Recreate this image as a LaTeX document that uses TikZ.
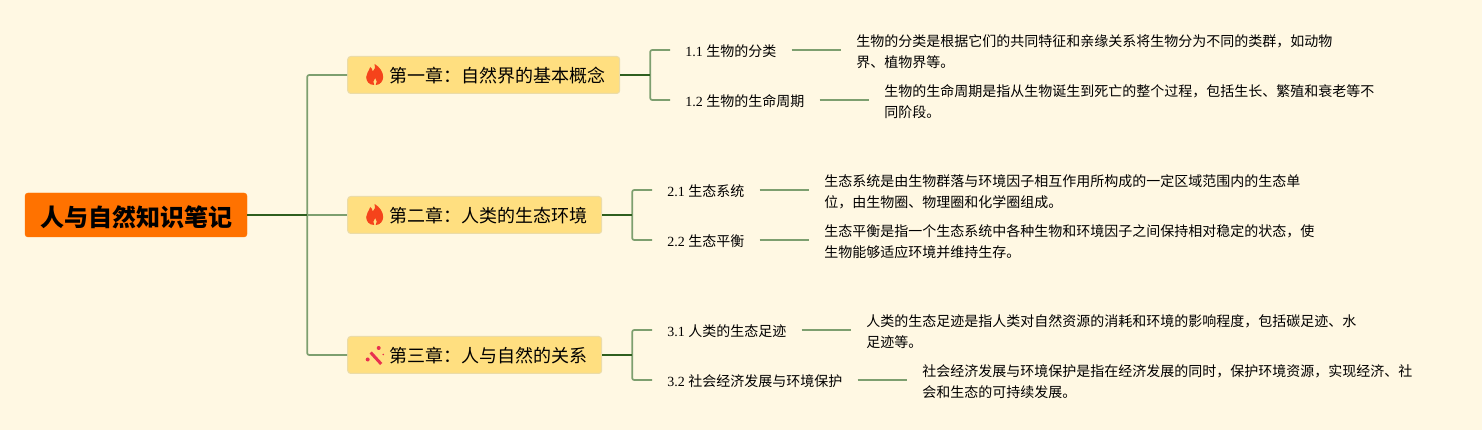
\documentclass[tikz,border=0pt]{standalone}
\usepackage{fontspec}
\setmainfont{Liberation Serif}
\newfontfamily\cjk{Noto Sans CJK SC}
\usepackage{tikz}
\usetikzlibrary{positioning,calc}
\definecolor{MapCream}{HTML}{FFF8E3}
\definecolor{MapOrange}{HTML}{FF7200}
\definecolor{MapGold}{HTML}{FFDF80}
\definecolor{MapEdge}{HTML}{EBDCA8}
\definecolor{MapDark}{HTML}{2F5F1F}
\definecolor{MapGreen}{HTML}{7D9F6F}
\definecolor{MapFlame}{HTML}{F5431B}
\definecolor{MapWand}{HTML}{E8304F}
\tikzset{
  rootbox/.style={rectangle,rounded corners=3pt,fill=MapOrange,draw=MapOrange,minimum width=222pt,minimum height=44pt,inner sep=0pt,text height=24pt,text depth=1.76pt,font=\fontsize{24}{28}\selectfont\cjk\bfseries},
  chapter/.style={rectangle,rounded corners=3pt,fill=MapGold,draw=MapEdge,line width=1pt,minimum height=37pt,inner xsep=14pt,inner ysep=0pt,text height=18pt,text depth=2.32pt,font=\fontsize{18}{22}\selectfont\cjk,execute at begin node=\hspace*{28pt}},
  topic/.style={inner xsep=15pt,inner ysep=0pt,minimum height=21pt,text height=14pt,text depth=1.36pt,font=\fontsize{14}{21}\selectfont},
  detail/.style={inner xsep=15pt,inner ysep=0pt,align=left,font=\fontsize{14}{21}\selectfont\cjk},
  trunk/.style={line width=1.7pt,color=MapGreen,rounded corners=2pt},
  stem/.style={line width=1.7pt,color=MapDark},
  flame/.pic={
    \fill[MapFlame] (-0.5,-10) .. controls (-6,-10) and (-8.5,-6) .. (-8.5,-2) .. controls (-8.5,2) and (-6,3) .. (-4.5,8) .. controls (-3,7) and (-2,5.5) .. (-2,3.5) .. controls (0,5) and (1,8) .. (0,11) .. controls (5,8) and (8.5,3) .. (8.5,-2) .. controls (8.5,-6) and (5.5,-10) .. (1,-10) .. controls (2.5,-8) and (2.5,-5) .. (0.5,-3) .. controls (-1.5,-5) and (-2,-8) .. (-0.5,-10) -- cycle;
  },
  wand/.pic={
    \draw[MapWand,line width=3pt] (-3.5,2.5) -- (7,-9);
    \fill[MapWand] (4.5,7) circle (2pt);
    \fill[MapWand] (-6.5,-4.5) circle (2pt);
    \fill[MapWand] (9,0.5) circle (0.9pt);
  },
}

\begin{document}
\begin{tikzpicture}[x=1pt,y=1pt,node distance=0pt]
  \useasboundingbox[fill=MapCream] (0,0) rectangle (1482,430);

  % Root
  \node[rootbox] (root) at (136,215) {人与自然知识笔记};

  % Chapters
  \node[chapter, right=100pt of root, yshift=140pt] (ch1) {第一章：自然界的基本概念};
  \node[chapter, right=100pt of root, yshift=0pt] (ch2) {第二章：人类的生态环境};
  \node[chapter, right=100pt of root, yshift=-140pt] (ch3) {第三章：人与自然的关系};
  \pic at ($(ch1.west)+(27.5,0)$) {flame};
  \pic at ($(ch2.west)+(27.5,0)$) {flame};
  \pic at ($(ch3.west)+(27,0)$) {wand};

  % Junctions
  \coordinate[right=60pt of root] (hub);
  \coordinate[right=30pt of ch1] (fork1);
  \coordinate[right=30pt of ch2] (fork2);
  \coordinate[right=30pt of ch3] (fork3);

  % Sections of chapter 1
  \node[topic, right=50pt of ch1, yshift=25pt] (s11) {1.1 {\cjk 生物的分类}};
  \node[topic, right=50pt of ch1, yshift=-25pt] (s12) {1.2 {\cjk 生物的生命周期}};
  \node[detail, right=49.5pt of s11, yshift=-2pt] (d11) {生物的分类是根据它们的共同特征和亲缘关系将生物分为不同的类群，如动物\\界、植物界等。};
  \node[detail, right=49.5pt of s12, yshift=-2pt] (d12) {生物的生命周期是指从生物诞生到死亡的整个过程，包括生长、繁殖和衰老等不\\同阶段。};

  % Sections of chapter 2
  \node[topic, right=50pt of ch2, yshift=25pt] (s21) {2.1 {\cjk 生态系统}};
  \node[topic, right=50pt of ch2, yshift=-25pt] (s22) {2.2 {\cjk 生态平衡}};
  \node[detail, right=49.5pt of s21, yshift=-2pt] (d21) {生态系统是由生物群落与环境因子相互作用所构成的一定区域范围内的生态单\\位，由生物圈、物理圈和化学圈组成。};
  \node[detail, right=49.5pt of s22, yshift=-2pt] (d22) {生态平衡是指一个生态系统中各种生物和环境因子之间保持相对稳定的状态，使\\生物能够适应环境并维持生存。};

  % Sections of chapter 3
  \node[topic, right=50pt of ch3, yshift=25pt] (s31) {3.1 {\cjk 人类的生态足迹}};
  \node[topic, right=50pt of ch3, yshift=-25pt] (s32) {3.2 {\cjk 社会经济发展与环境保护}};
  \node[detail, right=49.5pt of s31, yshift=-2pt] (d31) {人类的生态足迹是指人类对自然资源的消耗和环境的影响程度，包括碳足迹、水\\足迹等。};
  \node[detail, right=49.5pt of s32, yshift=-2pt] (d32) {社会经济发展与环境保护是指在经济发展的同时，保护环境资源，实现经济、社\\会和生态的可持续发展。};

  % Connectors from root
  \draw[trunk] (hub) |- (ch1.west);
  \draw[trunk] (hub) -- (ch2.west);
  \draw[trunk] (hub) |- (ch3.west);
  \draw[stem] (root.east) -- (hub);

  % Connectors from chapters
  \draw[trunk] (fork1) |- (s11.west);
  \draw[trunk] (fork1) |- (s12.west);
  \draw[stem] (ch1.east) -- (fork1);
  \draw[trunk] (fork2) |- (s21.west);
  \draw[trunk] (fork2) |- (s22.west);
  \draw[stem] (ch2.east) -- (fork2);
  \draw[trunk] (fork3) |- (s31.west);
  \draw[trunk] (fork3) |- (s32.west);
  \draw[stem] (ch3.east) -- (fork3);

  % Connectors to details
  \draw[trunk] (s11.east) -- (s11.east -| d11.west);
  \draw[trunk] (s12.east) -- (s12.east -| d12.west);
  \draw[trunk] (s21.east) -- (s21.east -| d21.west);
  \draw[trunk] (s22.east) -- (s22.east -| d22.west);
  \draw[trunk] (s31.east) -- (s31.east -| d31.west);
  \draw[trunk] (s32.east) -- (s32.east -| d32.west);
\end{tikzpicture}
\end{document}
